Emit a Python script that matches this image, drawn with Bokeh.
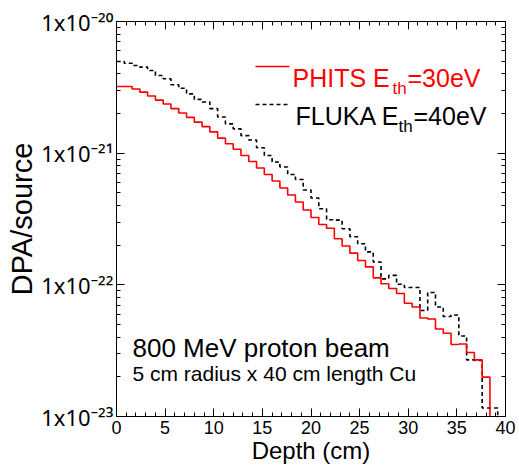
from bokeh.plotting import figure
from bokeh.models import LogAxis, LinearAxis, FixedTicker, Label, Arrow, CustomJSTickFormatter
from bokeh.embed import file_html
from bokeh.resources import INLINE

# ---------------- data ----------------
bin_width = 0.8  # cm, histogram bin width
phits = [3.21e-21, 3.21e-21, 3.07e-21, 2.91e-21, 2.72e-21, 2.53e-21, 2.36e-21, 2.18e-21, 2.02e-21, 1.87e-21,
         1.72e-21, 1.59e-21, 1.45e-21, 1.30e-21, 1.18e-21, 1.07e-21, 9.60e-22, 8.64e-22, 7.72e-22, 6.89e-22,
         6.15e-22, 5.44e-22, 4.81e-22, 4.26e-22, 3.70e-22, 3.25e-22, 2.87e-22, 2.69e-22, 2.24e-22, 1.97e-22,
         1.74e-22, 1.53e-22, 1.37e-22, 1.13e-22, 1.02e-22, 9.38e-23, 8.60e-23, 7.25e-23, 6.79e-23, 5.60e-23,
         5.50e-23, 4.62e-23, 4.29e-23, 3.52e-23, 3.55e-23, 3.06e-23, 2.69e-23, 1.99e-23, 1e-25]
fluka = [4.97e-21, 4.82e-21, 4.63e-21, 4.50e-21, 4.24e-21, 3.89e-21, 3.67e-21, 3.31e-21, 3.11e-21, 2.82e-21,
         2.56e-21, 2.45e-21, 2.18e-21, 1.88e-21, 1.67e-21, 1.53e-21, 1.36e-21, 1.26e-21, 1.10e-21, 9.60e-22,
         8.57e-22, 7.85e-22, 6.89e-22, 6.31e-22, 5.25e-22, 4.57e-22, 3.78e-22, 3.12e-22, 3.10e-22, 2.67e-22,
         2.32e-22, 2.05e-22, 1.78e-22, 1.49e-22, 1.11e-22, 1.18e-22, 1.01e-22, 9.55e-23, 9.55e-23, 6.39e-23,
         8.75e-23, 6.79e-23, 5.75e-23, 5.90e-23, 4.09e-23, 2.69e-23, 2.67e-23, 1.16e-23, 1.16e-23, 1e-25]

x_ticks = [0, 5, 10, 15, 20, 25, 30, 35, 40]
x_minor = list(range(0, 41))
y_ticks = [1e-23, 1e-22, 1e-21, 1e-20]
y_tick_labels = ["1x10\u207b\u00b2\u00b3", "1x10\u207b\u00b2\u00b2", "1x10\u207b\u00b2\u00b9", "1x10\u207b\u00b2\u2070"]
y_minor = [m * t for t in y_ticks[:-1] for m in range(2, 10)]

series_labels = [("PHITS E", "th", "=30eV"), ("FLUKA E", "th", "=40eV")]
note1 = "800 MeV proton beam"
note2 = "5 cm radius x 40 cm length Cu"
x_title = "Depth (cm)"
y_title = "DPA/source"

FONT = "Liberation Sans"
TICK_FONT = "Noto Sans"


def step_path(vals):
    xs, ys = [], []
    for i, v in enumerate(vals):
        xs += [i * bin_width, (i + 1) * bin_width]
        ys += [v, v]
    return xs, ys


p = figure(frame_width=389, frame_height=395,
           x_range=(x_ticks[0], x_ticks[-1]), y_range=(y_ticks[0], y_ticks[-1]),
           y_axis_type="log", output_backend="svg", toolbar_location=None,
           min_border_left=116, min_border_right=14, min_border_top=21, min_border_bottom=52)
p.grid.visible = False
p.outline_line_color = "black"
p.outline_line_width = 1
p.background_fill_color = "white"
p.border_fill_color = "white"

# ---- axes ----
xt = FixedTicker(ticks=x_ticks, minor_ticks=x_minor)
yt = FixedTicker(ticks=y_ticks, minor_ticks=y_minor)


def style_axis(ax):
    ax.axis_line_color = "black"
    ax.major_tick_line_color = "black"
    ax.minor_tick_line_color = "black"
    ax.major_tick_in = 8
    ax.major_tick_out = 0
    ax.minor_tick_in = 4
    ax.minor_tick_out = 0


xa = p.xaxis[0]
xa.ticker = xt
style_axis(xa)
xa.major_label_text_font = FONT
xa.major_label_text_font_size = "18px"
xa.major_label_text_color = "black"
xa.major_label_standoff = 4
xa.axis_label = x_title
xa.axis_label_text_font = FONT
xa.axis_label_text_font_size = "24px"
xa.axis_label_text_font_style = "normal"
xa.axis_label_text_color = "black"
xa.axis_label_standoff = 0

ya = p.yaxis[0]
ya.ticker = yt
style_axis(ya)
ya.major_label_overrides = dict(zip(y_ticks, y_tick_labels))
ya.major_label_text_font = TICK_FONT
ya.major_label_text_font_size = "22px"
ya.major_label_text_color = "black"
ya.major_label_standoff = 3
ya.axis_label = y_title
ya.axis_label_text_font = FONT
ya.axis_label_text_font_size = "29px"
ya.axis_label_text_font_style = "normal"
ya.axis_label_text_color = "black"
ya.axis_label_standoff = 0

blank = CustomJSTickFormatter(code="return ''")
top = LinearAxis(ticker=xt, formatter=blank, major_label_text_font_size="8px", major_label_standoff=0)
style_axis(top)
p.add_layout(top, "above")
right = LogAxis(ticker=yt, formatter=blank, major_label_text_font_size="8px", major_label_standoff=0)
style_axis(right)
p.add_layout(right, "right")

# ---- curves ----
fx, fy = step_path(fluka)
p.line(fx, fy, line_color="black", line_width=1.6, line_dash="4 3")
rx, ry = step_path(phits)
p.line(rx, ry, line_color="#ff0000", line_width=1.6)

# ---- legend ----
colors = ["#ff0000", "black"]
dashes = ["solid", "4 3"]
line_y = [350, 312]
base_y = [339, 301]
x_main = [176, 179]
x_sub = [276, 282]
x_tail = [291, 297]
for (a, b, c), col, dash, ly, by, xm, xs_, xt_ in zip(series_labels, colors, dashes, line_y, base_y, x_main, x_sub, x_tail):
    p.add_layout(Arrow(end=None, x_start=139, y_start=ly, x_end=173, y_end=ly,
                       start_units="screen", end_units="screen",
                       line_color=col, line_width=1.6, line_dash=dash))
    p.add_layout(Label(x=xm, y=by, x_units="screen", y_units="screen", text=a,
                       text_font=FONT, text_font_size="25px", text_color=col,
                       text_baseline="alphabetic"))
    p.add_layout(Label(x=xs_, y=by - 11, x_units="screen", y_units="screen", text=b,
                       text_font=FONT, text_font_size="17px", text_color=col,
                       text_baseline="alphabetic"))
    p.add_layout(Label(x=xt_, y=by, x_units="screen", y_units="screen", text=c,
                       text_font=FONT, text_font_size="25px", text_color=col,
                       text_baseline="alphabetic"))

# ---- annotation ----
p.add_layout(Label(x=16, y=69, x_units="screen", y_units="screen", text=note1,
                   text_font=FONT, text_font_size="26px", text_color="black",
                   text_baseline="alphabetic"))
p.add_layout(Label(x=16, y=43, x_units="screen", y_units="screen", text=note2,
                   text_font=FONT, text_font_size="21px", text_color="black",
                   text_baseline="alphabetic"))

open("out.html", "w").write(file_html(p, INLINE))
